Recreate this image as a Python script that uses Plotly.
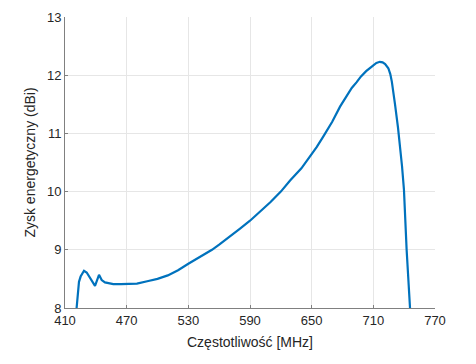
import plotly.graph_objects as go

freq_mhz = [421.3, 423.6, 425.2, 428.5, 431.1, 435.3, 439.2, 443.1, 445.7, 448.9,
            457, 464.5, 472, 480, 490, 500, 510, 520, 530, 540, 553, 560, 570, 580,
            590, 600, 610, 620, 629, 640, 648.4, 655, 661.4, 670, 677.6, 685, 689, 693.8,
            698, 703, 706, 710, 713, 716.3, 719, 721.5, 724.6, 726.5, 728, 729.5, 731.1,
            734.0, 735.9, 737.9, 739.8, 742.4, 745.7]
gain_dbi = [8.0, 8.45, 8.54, 8.64, 8.61, 8.49, 8.38, 8.57, 8.48, 8.44,
            8.41, 8.41, 8.41, 8.42, 8.46, 8.50, 8.56, 8.65, 8.76, 8.86, 9.0, 9.09, 9.22, 9.36,
            9.50, 9.66, 9.82, 10.0, 10.19, 10.40, 10.60, 10.77, 10.95, 11.20, 11.46, 11.68, 11.78, 11.88,
            11.98, 12.07, 12.12, 12.17, 12.21, 12.23, 12.22, 12.19, 12.12, 12.02, 11.89, 11.72, 11.50,
            11.10, 10.79, 10.44, 10.03, 9.0, 8.0]

x_ticks = [410, 470, 530, 590, 650, 710, 770]
y_ticks = [8, 9, 10, 11, 12, 13]

fig = go.Figure()
fig.add_trace(go.Scatter(x=freq_mhz, y=gain_dbi, mode="lines",
                         line=dict(color="#0072BD", width=2.2),
                         hoverinfo="skip"))

axis_common = dict(showline=True, linecolor="#808080", linewidth=1,
                   ticks="inside", ticklen=3, tickcolor="#808080",
                   showgrid=True, gridcolor="#e6e6e6", gridwidth=1,
                   zeroline=False, mirror=False, automargin=False,
                   tickfont=dict(family="Liberation Sans, Arial", size=13, color="#262626"))

fig.update_layout(
    width=476, height=364,
    margin=dict(l=57, r=49, t=9, b=64),
    paper_bgcolor="white", plot_bgcolor="white",
    showlegend=False,
    xaxis=dict(range=[410, 770], tickvals=x_ticks, **axis_common,
               title=dict(text="Częstotliwość [MHz]", standoff=10,
                          font=dict(family="Liberation Sans, Arial", size=14, color="#262626"))),
    yaxis=dict(range=[8, 13], tickvals=y_ticks, **axis_common,
               title=dict(text="Zysk energetyczny (dBi)", standoff=8,
                          font=dict(family="Liberation Sans, Arial", size=14, color="#262626"))),
)

fig.write_html("out.html")
